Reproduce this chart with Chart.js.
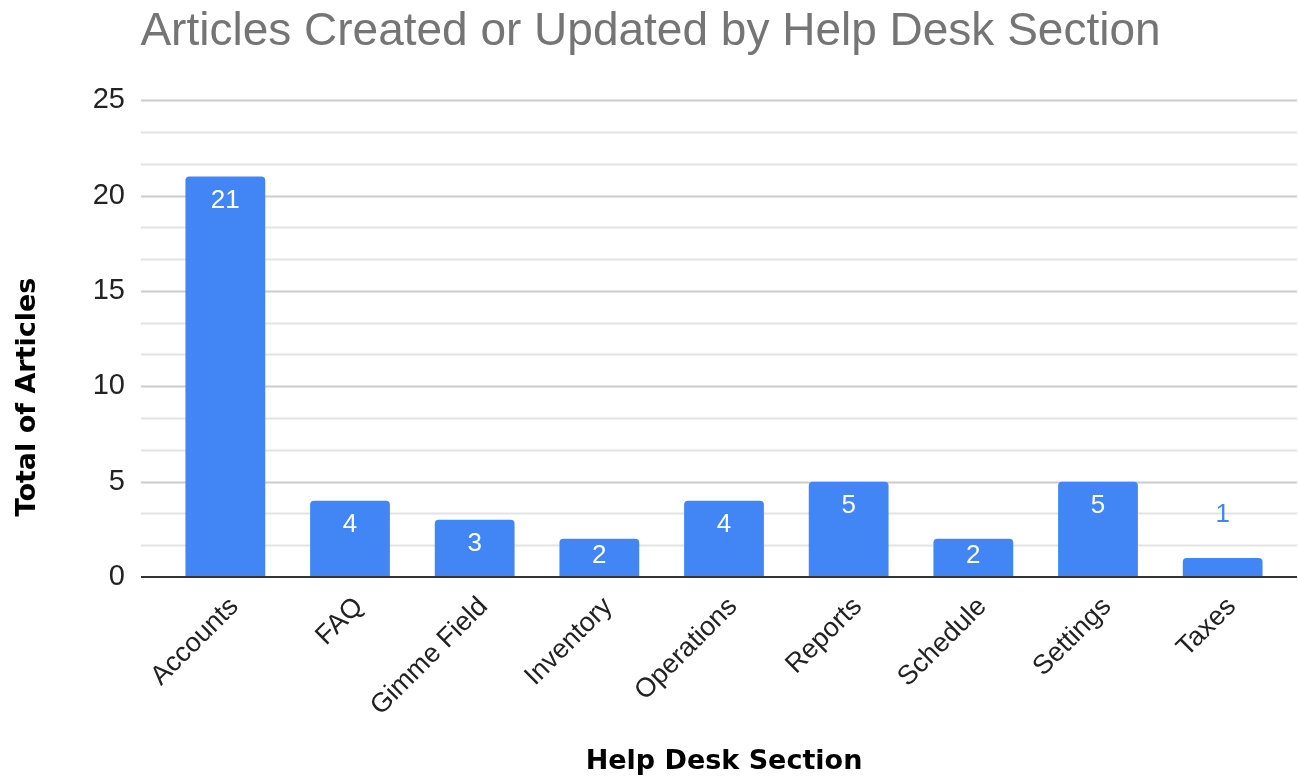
<!DOCTYPE html>
<html lang="en">
<head>
    <meta charset="UTF-8">
    <title>Articles Created or Updated by Help Desk Section</title>
    <script src="https://cdn.jsdelivr.net/npm/chart.js"></script>
    <style>
        html, body { margin: 0; padding: 0; background: #fff; }
        #wrap { width: 1298px; height: 778px; }
    </style>
</head>
<body>
    <div id="wrap"><canvas id="helpDeskChart"></canvas></div>
    <script>
        const sections = ['Accounts', 'FAQ', 'Gimme Field', 'Inventory', 'Operations', 'Reports', 'Schedule', 'Settings', 'Taxes'];
        const articleCounts = [21, 4, 3, 2, 4, 5, 2, 5, 1];
        const yMin = 0;
        const yMax = 25;
        const yStep = 5 / 3;
        const yAxisTitle = 'Total of Articles';

        const FONT = '"Liberation Sans", Arial, Helvetica, sans-serif';
        const HEAVY = '"DejaVu Sans", "Liberation Sans", Arial, sans-serif';
        const BLUE = '#4285f4';

        const isMajor = v => Math.abs(v / 5 - Math.round(v / 5)) < 1e-6;

        // gridlines run a bit past the bars on both sides, like the sheets chart
        const gridPlugin = {
            id: 'sheetGrid',
            beforeDatasetsDraw(chart) {
                const { ctx, chartArea, scales } = chart;
                const left = chartArea.left - 22;
                const right = chartArea.right + 12;
                ctx.save();
                scales.y.ticks.forEach(t => {
                    if (t.value <= yMin + 1e-6) return;
                    const y = Math.round(scales.y.getPixelForValue(t.value)) + 0.5;
                    ctx.strokeStyle = isMajor(t.value) ? '#cccccc' : '#e3e3e3';
                    ctx.lineWidth = 2;
                    ctx.beginPath();
                    ctx.moveTo(left, y);
                    ctx.lineTo(right, y);
                    ctx.stroke();
                });
                ctx.restore();
            },
            afterDatasetsDraw(chart) {
                const { ctx, chartArea, scales } = chart;
                const y = scales.y.getPixelForValue(yMin);
                ctx.save();
                ctx.strokeStyle = '#333333';
                ctx.lineWidth = 2;
                ctx.beginPath();
                ctx.moveTo(chartArea.left - 22, y);
                ctx.lineTo(chartArea.right + 12, y);
                ctx.stroke();

                // value labels
                const meta = chart.getDatasetMeta(0);
                ctx.font = '26px ' + FONT;
                ctx.textAlign = 'center';
                ctx.textBaseline = 'middle';
                meta.data.forEach((bar, i) => {
                    const h = bar.base - bar.y;
                    if (h > 30) {
                        ctx.fillStyle = '#ffffff';
                        ctx.fillText(articleCounts[i], bar.x, Math.min(bar.y + 24, bar.y + h / 2 - 2));
                    } else {
                        ctx.fillStyle = BLUE;
                        ctx.fillText(articleCounts[i], bar.x, bar.y - 43);
                    }
                });

                // y axis title, sits lower than the plot centre in the original
                ctx.font = 'bold 27px ' + HEAVY;
                ctx.fillStyle = '#000000';
                ctx.translate(28, chartArea.bottom - 180);
                ctx.rotate(-Math.PI / 2);
                ctx.fillText(yAxisTitle, 0, 0);
                ctx.restore();
            }
        };

        new Chart(document.getElementById('helpDeskChart'), {
            type: 'bar',
            data: {
                labels: sections,
                datasets: [{
                    label: yAxisTitle,
                    data: articleCounts,
                    backgroundColor: BLUE,
                    borderRadius: { topLeft: 4, topRight: 4 },
                    borderSkipped: 'bottom',
                    barPercentage: 0.8,
                    categoryPercentage: 0.8
                }]
            },
            options: {
                responsive: true,
                maintainAspectRatio: false,
                animation: false,
                layout: { padding: { left: 16, right: 13, top: 0, bottom: 0 } },
                plugins: {
                    legend: { display: false },
                    tooltip: { enabled: false },
                    title: {
                        display: true,
                        text: 'Articles Created or Updated by Help Desk Section',
                        color: '#757575',
                        font: { family: FONT, size: 46, weight: 'normal' },
                        padding: { top: 5, bottom: 40 }
                    }
                },
                scales: {
                    x: {
                        grid: { display: false },
                        border: { display: false },
                        ticks: {
                            color: '#222222',
                            font: { family: FONT, size: 27 },
                            minRotation: 45,
                            maxRotation: 45,
                            autoSkip: false,
                            padding: 6,
                            labelOffset: 9
                        },
                        title: {
                            display: true,
                            text: 'Help Desk Section',
                            color: '#000000',
                            font: { family: HEAVY, size: 27, weight: 'bold' },
                            padding: { top: 0, bottom: 0 }
                        },
                        afterFit(scale) { scale.height = 201; }
                    },
                    y: {
                        min: yMin,
                        max: yMax,
                        grid: { display: false },
                        border: { display: false },
                        ticks: {
                            stepSize: yStep,
                            autoSkip: false,
                            color: '#222222',
                            font: { family: FONT, size: 29 },
                            padding: 30,
                            callback: v => isMajor(v) ? String(Math.round(v)) : ''
                        },
                        title: { display: false },
                        afterFit(scale) { scale.width = 147; }
                    }
                }
            },
            plugins: [gridPlugin]
        });
    </script>
</body>
</html>
